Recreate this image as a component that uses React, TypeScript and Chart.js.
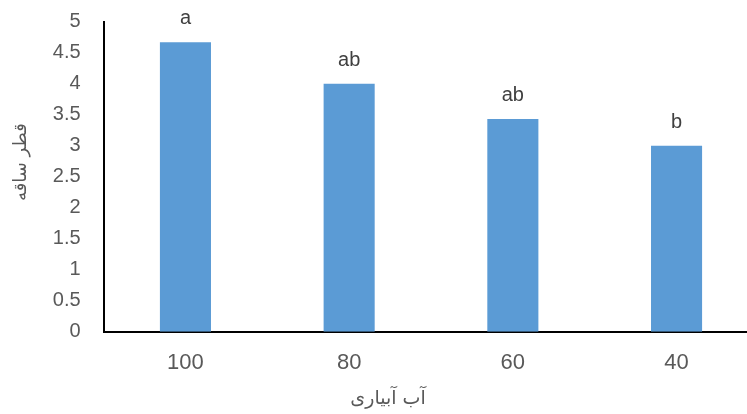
import React, { useEffect, useRef } from "react";
import { Chart, registerables } from "chart.js";

Chart.register(...registerables);

const categories = ["100", "80", "60", "40"];
const values = [4.67, 4.0, 3.43, 3.0];
const letters = ["a", "ab", "ab", "b"];
const yTitle = "قطر ساقه";
const xTitle = "آب آبیاری";

const lettersPlugin = {
  id: "letters",
  afterDatasetsDraw(chart: any) {
    const ctx = chart.ctx;
    const meta = chart.getDatasetMeta(0);
    ctx.save();
    ctx.fillStyle = "#404040";
    ctx.font = "20px 'Liberation Sans', Arial, sans-serif";
    ctx.textAlign = "center";
    ctx.textBaseline = "alphabetic";
    meta.data.forEach((bar: any, i: number) => {
      ctx.fillText(letters[i], bar.x, bar.y - 18);
    });
    ctx.restore();
  },
};

const titlesPlugin = {
  id: "titles",
  afterDraw(chart: any) {
    const ctx = chart.ctx;
    ctx.save();
    ctx.fillStyle = "#595959";
    ctx.font = "18px 'DejaVu Sans', sans-serif";
    ctx.textAlign = "center";
    ctx.textBaseline = "middle";
    ctx.direction = "rtl";
    ctx.translate(21, 162);
    ctx.rotate(-Math.PI / 2);
    ctx.fillText(yTitle, 0, 0);
    ctx.restore();

    ctx.save();
    ctx.fillStyle = "#595959";
    ctx.font = "19px 'DejaVu Sans', sans-serif";
    ctx.textAlign = "center";
    ctx.textBaseline = "middle";
    ctx.direction = "rtl";
    ctx.fillText(xTitle, 388, 399);
    ctx.restore();
  },
};

export default function App() {
  const ref = useRef<HTMLCanvasElement | null>(null);
  useEffect(() => {
    if (!ref.current) return;
    const chart = new Chart(ref.current, {
      type: "bar",
      data: {
        labels: categories,
        datasets: [
          {
            data: values,
            backgroundColor: "#5B9BD5",
            borderWidth: 0,
            barPercentage: 0.312,
            categoryPercentage: 1,
          },
        ],
      },
      options: {
        animation: false,
        responsive: false,
        maintainAspectRatio: false,
        devicePixelRatio: 1,
        layout: { padding: { left: 0, right: 1.6, top: 21.7, bottom: 0 } },
        plugins: {
          legend: { display: false },
          tooltip: { enabled: false },
        },
        scales: {
          x: {
            grid: { display: false, drawTicks: false },
            border: { display: true, color: "#000000", width: 2 },
            ticks: {
              color: "#595959",
              font: { family: "'Liberation Sans', Arial, sans-serif", size: 22 },
              padding: 18,
            },
            afterFit: (scale: any) => {
              scale.height = 82.3;
              scale.paddingLeft = 0;
              scale.paddingRight = 0;
            },
          },
          y: {
            min: 0,
            max: 5,
            grid: { display: false, drawTicks: false },
            border: { display: true, color: "#000000", width: 2 },
            ticks: {
              stepSize: 0.5,
              color: "#595959",
              font: { family: "'Liberation Sans', Arial, sans-serif", size: 20 },
              padding: 23,
              callback: (v: any) => `${Math.round(Number(v) * 10) / 10}`,
            },
            afterFit: (scale: any) => {
              scale.width = 103.6;
              scale.paddingTop = 0;
              scale.paddingBottom = 0;
            },
          },
        },
      },
      plugins: [lettersPlugin, titlesPlugin],
    });
    return () => chart.destroy();
  }, []);
  return (
    <div
      style={{
        position: "fixed",
        left: 0,
        top: 0,
        width: 747,
        height: 414,
        overflow: "hidden",
        background: "#ffffff",
      }}
    >
      <canvas ref={ref} width={760} height={414} style={{ width: 760, height: 414 }} />
    </div>
  );
}
